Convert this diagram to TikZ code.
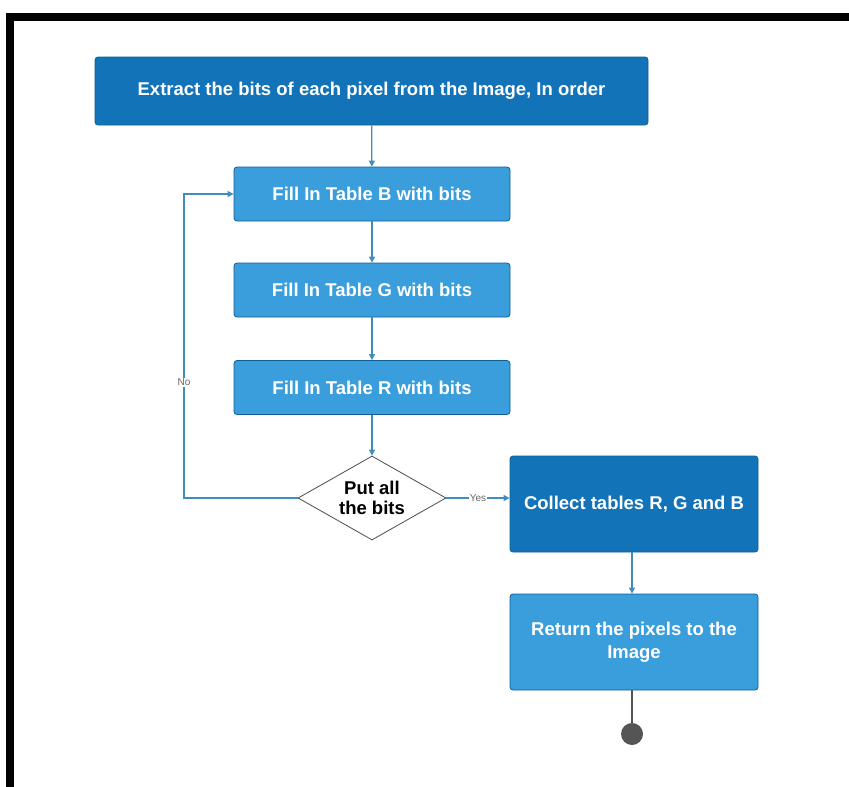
\documentclass[tikz,border=0pt]{standalone}
\usepackage{fontspec}
\setmainfont{Liberation Sans}
\usetikzlibrary{shapes.geometric,arrows.meta}
\definecolor{darkblk}{HTML}{1273B8}
\definecolor{lightblk}{HTML}{3A9DDC}
\definecolor{edgeblue}{HTML}{0F5F93}
\definecolor{linkblue}{HTML}{3F8DBD}
\definecolor{endgray}{HTML}{555555}
\begin{document}
\begin{tikzpicture}[x=1pt,y=-1pt,
  procbox/.style={rectangle,rounded corners=3pt,draw=edgeblue,line width=0.8pt,
    text=white,font=\bfseries\fontsize{18.5}{23}\selectfont,align=center,inner sep=0pt},
  darkbox/.style={procbox,fill=darkblk},
  lightbox/.style={procbox,fill=lightblk},
  decision/.style={diamond,draw=black!70,line width=0.8pt,fill=white,inner sep=0pt},
  decisiontext/.style={font=\bfseries\fontsize{18.5}{20}\selectfont,align=center,inner sep=0pt},
  link/.style={draw=linkblue,line width=1.3pt,-{Triangle[length=6pt,width=6pt]}},
  tag/.style={fill=white,inner sep=1pt,text=black!60,font=\fontsize{10}{12}\selectfont}]
\useasboundingbox (0,0) rectangle (849,787);
% page frame
\draw[line width=8pt,line join=miter] (10,800) -- (10,17) -- (860,17);
% process steps
\node[darkbox,minimum width=553pt,minimum height=68pt] (extract) at (371.5,91)
  {Extract the bits of each pixel from the Image, In order};
\node[lightbox,minimum width=276pt,minimum height=54pt] (tabB) at (372,194)
  {Fill In Table B with bits};
\node[lightbox,minimum width=276pt,minimum height=54pt] (tabG) at (372,290)
  {Fill In Table G with bits};
\node[lightbox,minimum width=276pt,minimum height=54pt] (tabR) at (372,387.5)
  {Fill In Table R with bits};
\node[decision,minimum width=148pt,minimum height=84pt,
  label={[decisiontext]center:Put all\\the bits}] (check) at (372,498) {};
\node[darkbox,minimum width=248pt,minimum height=96pt] (collect) at (634,504)
  {Collect tables R, G and B};
\node[lightbox,minimum width=248pt,minimum height=96pt] (ret) at (634,642)
  {Return the pixels to the\\Image};
\node[circle,fill=endgray,minimum size=22pt,inner sep=0pt] (stop) at (632,734) {};
\coordinate (loopL) at (184,498);
\coordinate (loopT) at (184,194);
% connectors
\draw[link] (extract) -- (tabB);
\draw[link] (tabB) -- (tabG);
\draw[link] (tabG) -- (tabR);
\draw[link] (tabR) -- (check);
\draw[link] (check.west) -- (loopL) -- node[tag,pos=0.38]{No} (loopT) -- (tabB.west);
\draw[link] (check.east) -- node[tag]{Yes} (collect.west |- check.east);
\draw[link] (collect.south -| stop) -- (ret.north -| stop);
\draw[draw=endgray,line width=1.3pt] (ret.south -| stop) -- (stop);
\end{tikzpicture}
\end{document}
